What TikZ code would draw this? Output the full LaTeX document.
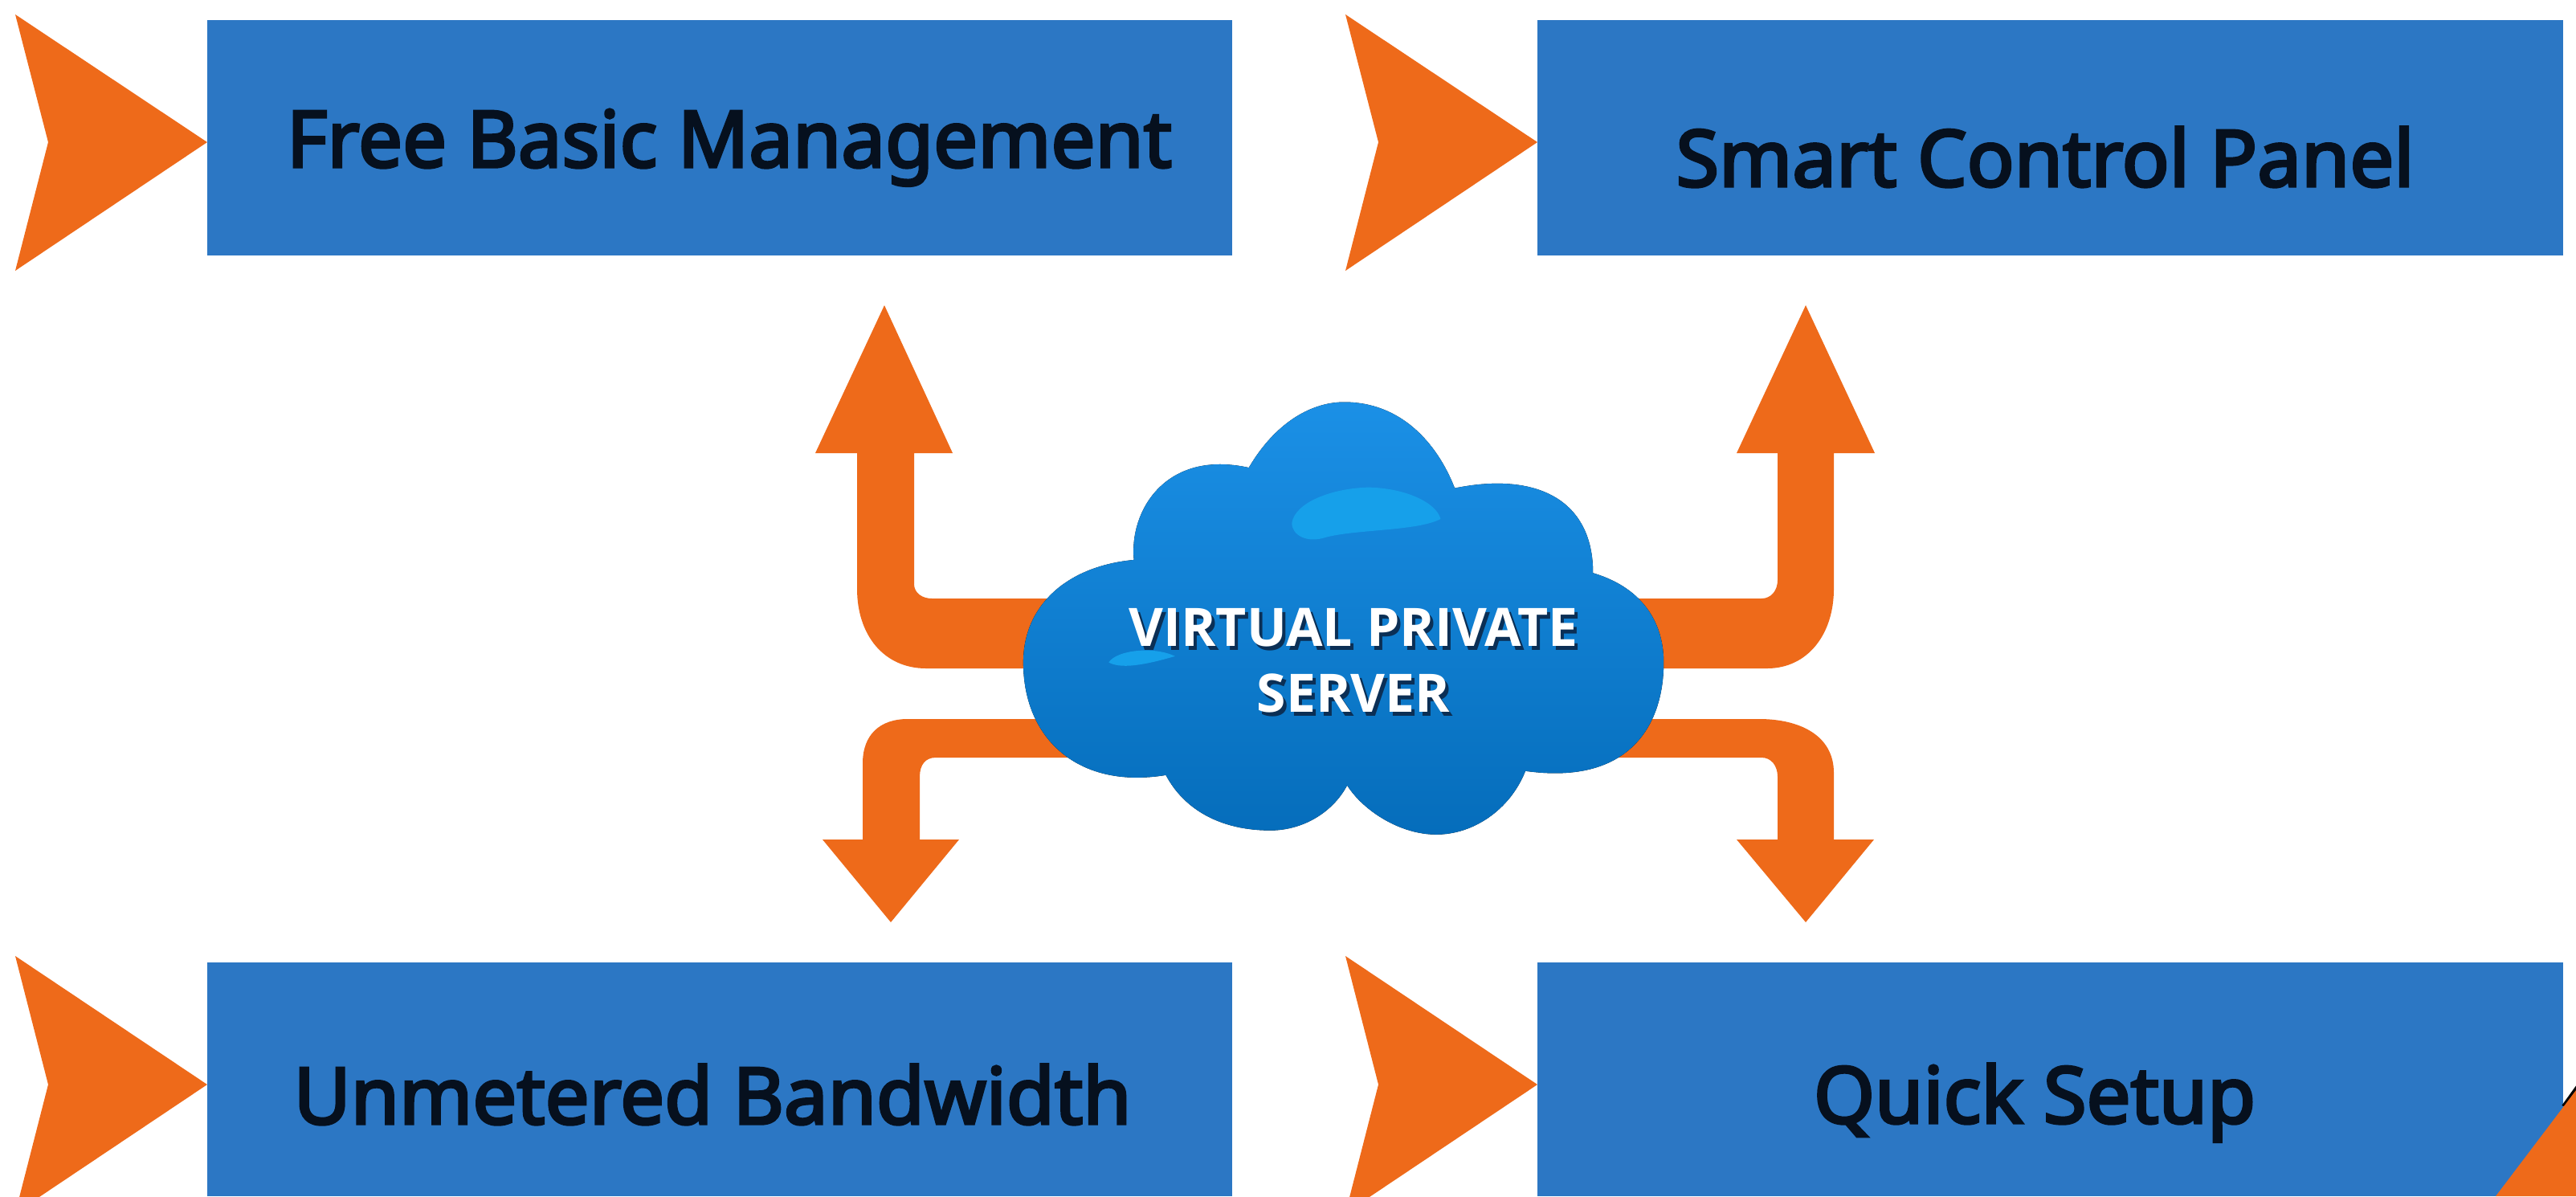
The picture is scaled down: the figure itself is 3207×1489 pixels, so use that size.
\documentclass[tikz,border=0pt]{standalone}
\usepackage{fontspec}
\setmainfont{Open Sans}
\newfontfamily\labelfont{Noto Sans}[FakeBold=3.5]
\definecolor{boxblue}{HTML}{2C77C4}
\definecolor{arroworange}{HTML}{EE6A1A}
\definecolor{inkdark}{HTML}{06101E}
\definecolor{cloudtop}{HTML}{1B90E6}
\definecolor{cloudbot}{HTML}{056DBB}
\definecolor{cloudlight}{HTML}{16A0EA}
\definecolor{shadowc}{HTML}{0B2F55}
\tikzset{
  bluebox/.style={fill=boxblue,draw=none},
  boxlabel/.style={font=\labelfont\fontsize{24.4pt}{28pt}\selectfont,text=inkdark,inner sep=0pt,anchor=base},
  orange/.style={fill=arroworange,draw=none},
  cloudlabel/.style={font=\fontsize{16.5pt}{20.5pt}\selectfont\bfseries,inner sep=0pt,align=center,anchor=base},
}
\begin{document}
\begin{tikzpicture}[x=0.25pt,y=-0.25pt]
\useasboundingbox (0,0) rectangle (3207,1489);
\fill[white] (0,0) rectangle (3207,1489);
\begin{scope}
\clip (0,0) rectangle (3207,1489);
% boxes
\fill[bluebox] (258,25) rectangle (1534,318);
\fill[bluebox] (1914,25) rectangle (3191,318);
\fill[bluebox] (258,1198) rectangle (1534,1489);
\fill[bluebox] (1914,1198) rectangle (3191,1489);
% chevrons
\fill[orange] (19,18) -- (258,177) -- (19,337) -- (60,177) -- cycle;
\fill[orange] (1675,18) -- (1914,177) -- (1675,337) -- (1716,177) -- cycle;
\fill[orange] (19,1190) -- (258,1350) -- (19,1510) -- (60,1350) -- cycle;
\fill[orange] (1675,1190) -- (1914,1350) -- (1675,1510) -- (1716,1350) -- cycle;
% corner
\draw[black,line width=1pt] (3191,1377) -- (3209,1352);
\fill[orange] (3107,1489) -- (3207,1357) -- (3207,1489) -- cycle;
% arrows
\fill[orange] (1101,380) -- (1186,564) -- (1138,564) -- (1138,727)
  .. controls (1138,738) and (1148,745) .. (1160,745) -- (1400,745) -- (1400,832) -- (1153,832)
  .. controls (1100,832) and (1067,790) .. (1067,733) -- (1067,564) -- (1015,564) -- cycle;
\fill[orange] (1109,1148) -- (1194,1045) -- (1145,1045) -- (1145,967)
  .. controls (1145,952) and (1152,943) .. (1165,943) -- (1400,943) -- (1400,895) -- (1130,895)
  .. controls (1095,895) and (1074,915) .. (1074,950) -- (1074,1045) -- (1024,1045) -- cycle;
\fill[orange] (2248,380) -- (2334,564) -- (2283,564) -- (2283,733)
  .. controls (2283,790) and (2250,832) .. (2200,832) -- (1950,832) -- (1950,745) -- (2193,745)
  .. controls (2205,745) and (2213,735) .. (2213,722) -- (2213,564) -- (2162,564) -- cycle;
\fill[orange] (2248,1148) -- (2333,1045) -- (2283,1045) -- (2283,962)
  .. controls (2283,915) and (2240,895) .. (2190,895) -- (1950,895) -- (1950,943) -- (2193,943)
  .. controls (2205,943) and (2213,953) .. (2213,967) -- (2213,1045) -- (2162,1045) -- cycle;
% cloud
\begin{scope}[shift={(1000,350)},x=0.19128pt,y=-0.12755pt]
\fill[top color=cloudtop,bottom color=cloudbot]
  (358,930) .. controls (358,790) and (430,695) .. (538,680)
  .. controls (530,560) and (590,410) .. (725,455)
  .. controls (770,340) and (830,295) .. (880,295)
  .. controls (970,295) and (1030,390) .. (1060,505)
  .. controls (1190,465) and (1285,530) .. (1285,712)
  .. controls (1370,750) and (1400,840) .. (1400,930)
  .. controls (1400,1090) and (1340,1230) .. (1175,1195)
  .. controls (1150,1290) and (1090,1350) .. (1030,1350)
  .. controls (970,1350) and (910,1290) .. (885,1230)
  .. controls (860,1300) and (810,1340) .. (760,1340)
  .. controls (680,1340) and (620,1290) .. (590,1205)
  .. controls (450,1240) and (358,1120) .. (358,930) -- cycle;
\fill[cloudlight] (795,590) .. controls (800,540) and (860,505) .. (920,503)
  .. controls (980,505) and (1030,540) .. (1037,580)
  .. controls (1000,610) and (900,605) .. (850,625) .. controls (820,640) and (795,620) .. (795,590) -- cycle;
\fill[cloudlight] (497,930) .. controls (510,900) and (570,890) .. (605,915)
  .. controls (570,930) and (520,950) .. (497,930) -- cycle;
\end{scope}
% labels
\node[boxlabel] (fbm) at (908,208) {Free Basic Management};
\node[boxlabel] (scp) at (2546,232) {Smart Control Panel};
\node[boxlabel] (umb) at (887,1399) {Unmetered Bandwidth};
\node[boxlabel] (qs) at (2533,1398) {Quick Setup};
\node[cloudlabel,text=shadowc] (vpsshadow) at (1689,891) {VIRTUAL PRIVATE\\SERVER};
\node[cloudlabel,text=white] (vps) at (1685,886) {VIRTUAL PRIVATE\\SERVER};
\end{scope}
\end{tikzpicture}
\end{document}
